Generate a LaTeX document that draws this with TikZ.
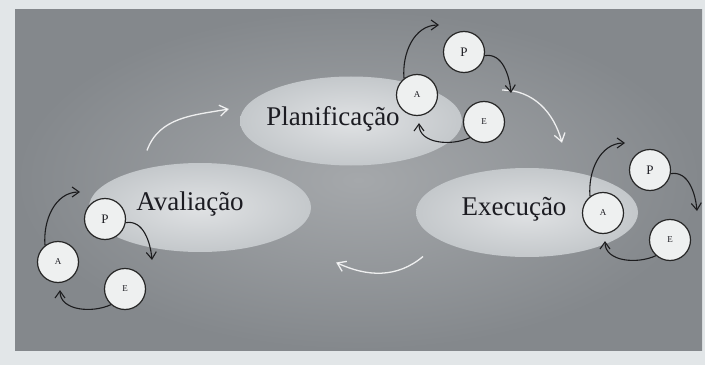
\documentclass[tikz,border=0pt]{standalone}
\usepackage{fontspec}
\setmainfont{Liberation Serif}
\usetikzlibrary{arrows.meta,shapes.geometric,calc}
\definecolor{outerbg}{RGB}{226,230,232}
\definecolor{panelin}{RGB}{165,168,171}
\definecolor{panelout}{RGB}{132,136,140}
\definecolor{lensin}{RGB}{224,226,228}
\definecolor{lensout}{RGB}{196,200,203}
\definecolor{circfill}{RGB}{238,240,240}
\definecolor{arrowcol}{RGB}{28,28,30}
\definecolor{txtcol}{RGB}{28,28,34}
\newcommand\pacycle[2]{%
  \node[bigcyc] (#1P) at (#2) {P};
  \node[smallcyc] (#1A) at ($(#1P)+(-47,-43)$) {A};
  \node[smallcyc] (#1E) at ($(#1P)+(20,-70)$) {E};
  \draw[blk] (#1A.128) to[out=95,in=180] ($(#1P)+(-25,27)$);
  \draw[blk] (#1P.-10) to[out=10,in=95] ($(#1P)+(47,-41)$);
  \draw[blk] (#1E.228) to[out=205,in=-90] ($(#1A.south)+(2,-7)$);
}
\begin{document}
\begin{tikzpicture}[x=1pt,y=1pt,
  cyc/.style={circle,draw=black!85,line width=1.2pt,fill=circfill,minimum size=41pt,inner sep=0pt,text=txtcol},
  smallcyc/.style={cyc,font=\fontsize{9}{9}\selectfont},
  bigcyc/.style={cyc,font=\fontsize{13}{13}\selectfont},
  blk/.style={draw=arrowcol,line width=1.1pt,-{Straight Barb[length=7pt,width=10pt]}},
  wht/.style={draw=white,line width=1.3pt,opacity=.85,-{Straight Barb[length=8pt,width=11pt]}},
  lens/.style={ellipse,minimum width=222pt,minimum height=89pt,inner sep=0pt,shade,shading=radial,inner color=lensin,outer color=lensout},
  lbl/.style={font=\fontsize{27}{27}\selectfont,text=txtcol,anchor=base}]
\useasboundingbox (0,0) rectangle (705,365);
\fill[outerbg] (0,0) rectangle (705,365);
\shade[inner color=panelin,outer color=panelout] (15,15) rectangle (702,355);
\node[lens] (lensPl) at (351,244) {};
\node[lens] (lensAv) at (200,157.5) {};
\node[lens] (lensEx) at (527,152.5) {};
\draw[wht] ($(lensAv.center)+(-53,57)$) to[out=70,in=190] ($(lensPl.west)+(-11,12)$);
\draw[wht] ($(lensPl.east)+(40,31)$) to[out=0,in=105] ($(lensEx.north)+(35,25)$);
\draw[wht] ($(lensEx.center)+(-104,-44)$) to[out=220,in=-25] ($(lensAv.east)+(25,-55)$);
\node[lbl] (tPl) at (333,240) {Planificação};
\node[lbl] (tAv) at (190,155) {Avaliação};
\node[lbl] (tEx) at (514,150) {Execução};
\pacycle{t}{464,313}
\pacycle{r}{650,195}
\pacycle{l}{105,146}
\end{tikzpicture}
\end{document}
